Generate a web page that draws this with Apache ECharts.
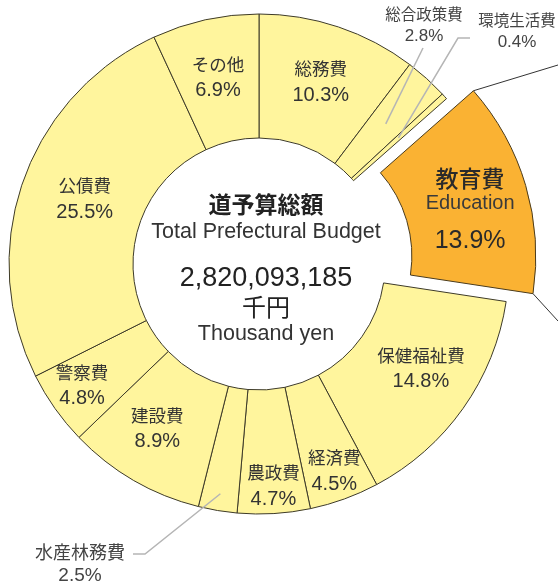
<!DOCTYPE html>
<html>
<head>
<meta charset="utf-8">
<script src="https://cdn.jsdelivr.net/npm/echarts@6/dist/echarts.min.js"></script>
<style>
  html, body { margin: 0; padding: 0; background: #fff; }
  #main { width: 558px; height: 584px; }
</style>
</head>
<body>
<div id="main"></div>
<script>
// budget shares (%) clockwise from 12 o'clock
var names = ['総務費', '総合政策費', '環境生活費', '教育費', '保健福祉費', '経済費', '農政費', '水産林務費', '建設費', '警察費', '公債費', 'その他'];
var values = [10.3, 2.8, 0.4, 13.9, 14.8, 4.5, 4.7, 2.5, 8.9, 4.8, 25.5, 6.9];
var highlight = '教育費';
var highlightEn = 'Education';
var outsideNames = ['総合政策費', '環境生活費', '水産林務費'];
var centerLines = ['道予算総額', 'Total Prefectural Budget', '2,820,093,185', '千円', 'Thousand yen'];

var CX = 259, CY = 264, R0 = 126, R1 = 250, OFFSET = 28;
var FONT = "'Liberation Sans', 'Noto Sans CJK JP', sans-serif";

// small nudges for inside labels (px)
var nudge = {
    '公債費': [6, -1],
    '警察費': [-21, 12],
    '建設費': [-6, 0],
    '農政費': [3, 32],
    '経済費': [10, 28],
    '保健福祉費': [6, -5],
    '教育費': [1, 16],
    'その他': [0, 1],
    '総務費': [1, 0]
};

var total = values.reduce(function(a, b) { return a + b; }, 0);
var cum = [];
for (var s = 0, i = 0; i < values.length; i++) {
    cum.push([s / total, (s + values[i]) / total]);
    s += values[i];
}
var pt = function(frac, r) {
    var a = frac * 2 * Math.PI;
    return [CX + r * Math.sin(a), CY - r * Math.cos(a)];
};
var midOf = function(i) { return (cum[i][0] + cum[i][1]) / 2; };

// where the outside labels and their leader lines go
var outsideLayout = {
    '総合政策費': { label: [424, 26], size: [15.5, 17], line: function(i) { return [pt(midOf(i), 189), [423, 48]]; } },
    '環境生活費': { label: [517, 32], size: [15.5, 17], line: function(i) { return [pt(midOf(i), 188), [458, 38], [470, 38]]; } },
    '水産林務費': { label: [80, 565], size: [18, 19], line: function(i) { return [pt(midOf(i), 233), [145, 554], [133, 554]]; } }
};

var data = names.map(function(n, i) {
    var item = { name: n, value: values[i] };
    if (n === highlight) {
        item.selected = true;
        item.itemStyle = { color: '#fab233', borderColor: '#4a3b1c' };
        item.label = {
            formatter: '{a|' + n + '}\n{b|' + highlightEn + '}\n{c|' + values[i] + '%}',
            rich: {
                a: { fontSize: 23, lineHeight: 24, color: '#2a2a2a', fontFamily: FONT, fontWeight: 500 },
                b: { fontSize: 20, lineHeight: 22, color: '#3a3a3a', fontFamily: FONT },
                c: { fontSize: 25, lineHeight: 54, color: '#2a2a2a', fontFamily: FONT }
            }
        };
    }
    if (outsideNames.indexOf(n) > -1) {
        var sz = outsideLayout[n].size;
        item.label = {
            position: 'outside',
            formatter: '{n|' + n + '}\n{v|' + values[i] + '%}',
            rich: {
                n: { fontSize: sz[0], lineHeight: 21, color: '#444', fontFamily: FONT },
                v: { fontSize: sz[1], lineHeight: 21, color: '#444', fontFamily: FONT }
            }
        };
    }
    return item;
});

// callout lines leaving the pulled-out slice
var hi = names.indexOf(highlight);
var dir = pt(midOf(hi), 1);
dir = [dir[0] - CX, dir[1] - CY];
var c1 = pt(cum[hi][0], R1), c2 = pt(cum[hi][1], R1);
c1 = [c1[0] + dir[0] * OFFSET, c1[1] + dir[1] * OFFSET];
c2 = [c2[0] + dir[0] * OFFSET, c2[1] + dir[1] * OFFSET];

var centerStyles = [
    { fontSize: 23, fontWeight: 'bold', fill: '#222', y: 207 },
    { fontSize: 21.5, fontWeight: 'normal', fill: '#333', y: 232 },
    { fontSize: 27, fontWeight: 'normal', fill: '#222', y: 279 },
    { fontSize: 24, fontWeight: 'normal', fill: '#222', y: 309 },
    { fontSize: 21.5, fontWeight: 'normal', fill: '#333', y: 334 }
];
var graphics = centerLines.map(function(t, i) {
    var st = centerStyles[i];
    return {
        type: 'text', x: 266, y: st.y,
        style: { text: t, fontSize: st.fontSize, fontWeight: st.fontWeight, fill: st.fill,
                 fontFamily: FONT, align: 'center', verticalAlign: 'middle' }
    };
});
graphics.push({ type: 'polyline', shape: { points: [c1, [558, 65]] }, style: { stroke: '#333', lineWidth: 1, fill: null } });
graphics.push({ type: 'polyline', shape: { points: [c2, [558, 321]] }, style: { stroke: '#333', lineWidth: 1, fill: null } });
// grey leader lines for the thin slices
names.forEach(function(n, i) {
    if (outsideLayout[n]) {
        graphics.push({
            type: 'polyline', z: 10,
            shape: { points: outsideLayout[n].line(i) },
            style: { stroke: '#b5b5b5', lineWidth: 1.5, fill: null }
        });
    }
});

var option = {
    animation: false,
    graphic: graphics,
    series: [{
        type: 'pie',
        center: [CX, CY],
        radius: [R0, R1],
        startAngle: 90,
        clockwise: true,
        avoidLabelOverlap: false,
        selectedMode: 'single',
        selectedOffset: OFFSET,
        itemStyle: { color: '#fff59d', borderColor: '#3d3a28', borderWidth: 1 },
        emphasis: { disabled: true },
        label: {
            show: true,
            position: 'inside',
            formatter: '{n|{b}}\n{v|{c}%}',
            rich: {
                n: { fontSize: 17.5, lineHeight: 25, color: '#333', fontFamily: FONT },
                v: { fontSize: 20, lineHeight: 25, color: '#333', fontFamily: FONT }
            }
        },
        labelLine: { show: false },
        labelLayout: function(p) {
            var n = names[p.dataIndex];
            var o = outsideLayout[n];
            if (o) {
                return { x: o.label[0], y: o.label[1], align: 'center', verticalAlign: 'middle' };
            }
            var d = nudge[n] || [0, 0];
            return { dx: d[0], dy: d[1] };
        },
        data: data
    }]
};

var myChart = echarts.init(document.getElementById('main'));
myChart.setOption(option);
</script>
</body>
</html>
